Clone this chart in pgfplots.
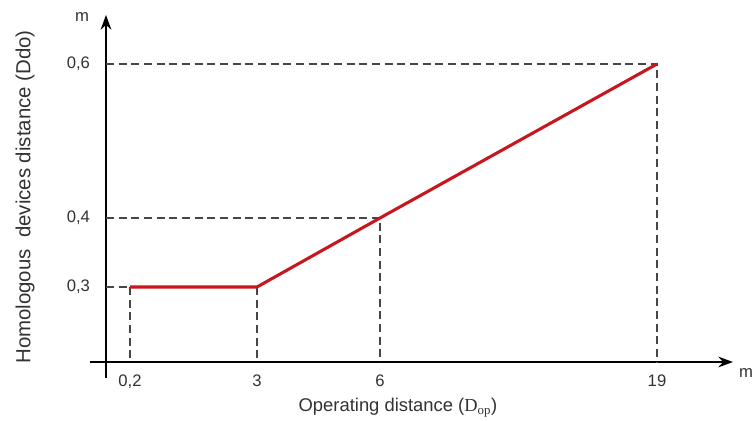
\documentclass[border=0pt]{standalone}
\usepackage{fontspec}
\setmainfont{Liberation Sans}
\newfontfamily\seriffont{Liberation Serif}
\usepackage{pgfplots}
\pgfplotsset{compat=1.18}
\usetikzlibrary{arrows.meta}
\definecolor{redline}{RGB}{200,22,30}
\definecolor{txt}{RGB}{50,50,50}
\definecolor{dashc}{RGB}{70,70,70}
\begin{document}
\begin{tikzpicture}
% Schematic chart: positions along the axes (1 unit = 1 px of the reference),
% labelled with the real values: x 0,2 / 3 / 6 / 19 m ; y 0,3 / 0,4 / 0,6 m
\begin{axis}[
  x=0.75pt, y=0.75pt,
  axis lines=middle,
  xmin=-16, xmax=627, ymin=-16, ymax=347,
  axis line style={line width=1.5pt, black, -{Stealth[length=11pt,width=8pt]}},
  xtick={24,151,274,551}, xticklabels={{0,2},{3},{6},{19}},
  ytick={75,144,298}, yticklabels={{0,3},{0,4},{0,6}},
  major tick length=0pt,
  tick label style={font=\fontsize{12.5}{14}\selectfont, text=txt},
  xticklabel style={yshift=-6pt},
  yticklabel style={xshift=-8.5pt},
  clip=false,
]
\addplot[dashc, line width=1pt, dash pattern=on 6pt off 3.5pt] coordinates {(0,298) (551,298) (551,0)};
\addplot[dashc, line width=1pt, dash pattern=on 6pt off 3.5pt] coordinates {(0,144) (274,144) (274,0)};
\addplot[dashc, line width=1pt, dash pattern=on 6pt off 3.5pt] coordinates {(0,75) (24,75)};
\addplot[dashc, line width=1pt, dash pattern=on 6pt off 3.5pt] coordinates {(24,75) (24,0)};
\addplot[dashc, line width=1pt, dash pattern=on 6pt off 3.5pt] coordinates {(151,75) (151,0)};
\addplot[redline, line width=2.3pt, line join=round] coordinates {(24,75) (151,75) (274,144) (551,298)};
\node[font=\fontsize{12.5}{14}\selectfont, text=txt] at (axis cs:-24,345) {m};
\node[font=\fontsize{12.5}{14}\selectfont, text=txt] at (axis cs:640,-11) {m};
\node[font=\fontsize{15.3}{18}\selectfont, text=txt, rotate=90] at (axis cs:-81,165) {Homologous\ \ devices distance (Ddo)};
\node[font=\fontsize{13.8}{16}\selectfont, text=txt] at (axis cs:292,-46) {Operating distance ({\seriffont D\textsubscript{op}})};
\coordinate (bl) at (axis cs:-106,-59);
\coordinate (tr) at (axis cs:648,362);
\end{axis}
\pgfresetboundingbox
\path[use as bounding box] (bl) rectangle (tr);
\end{tikzpicture}
\end{document}
